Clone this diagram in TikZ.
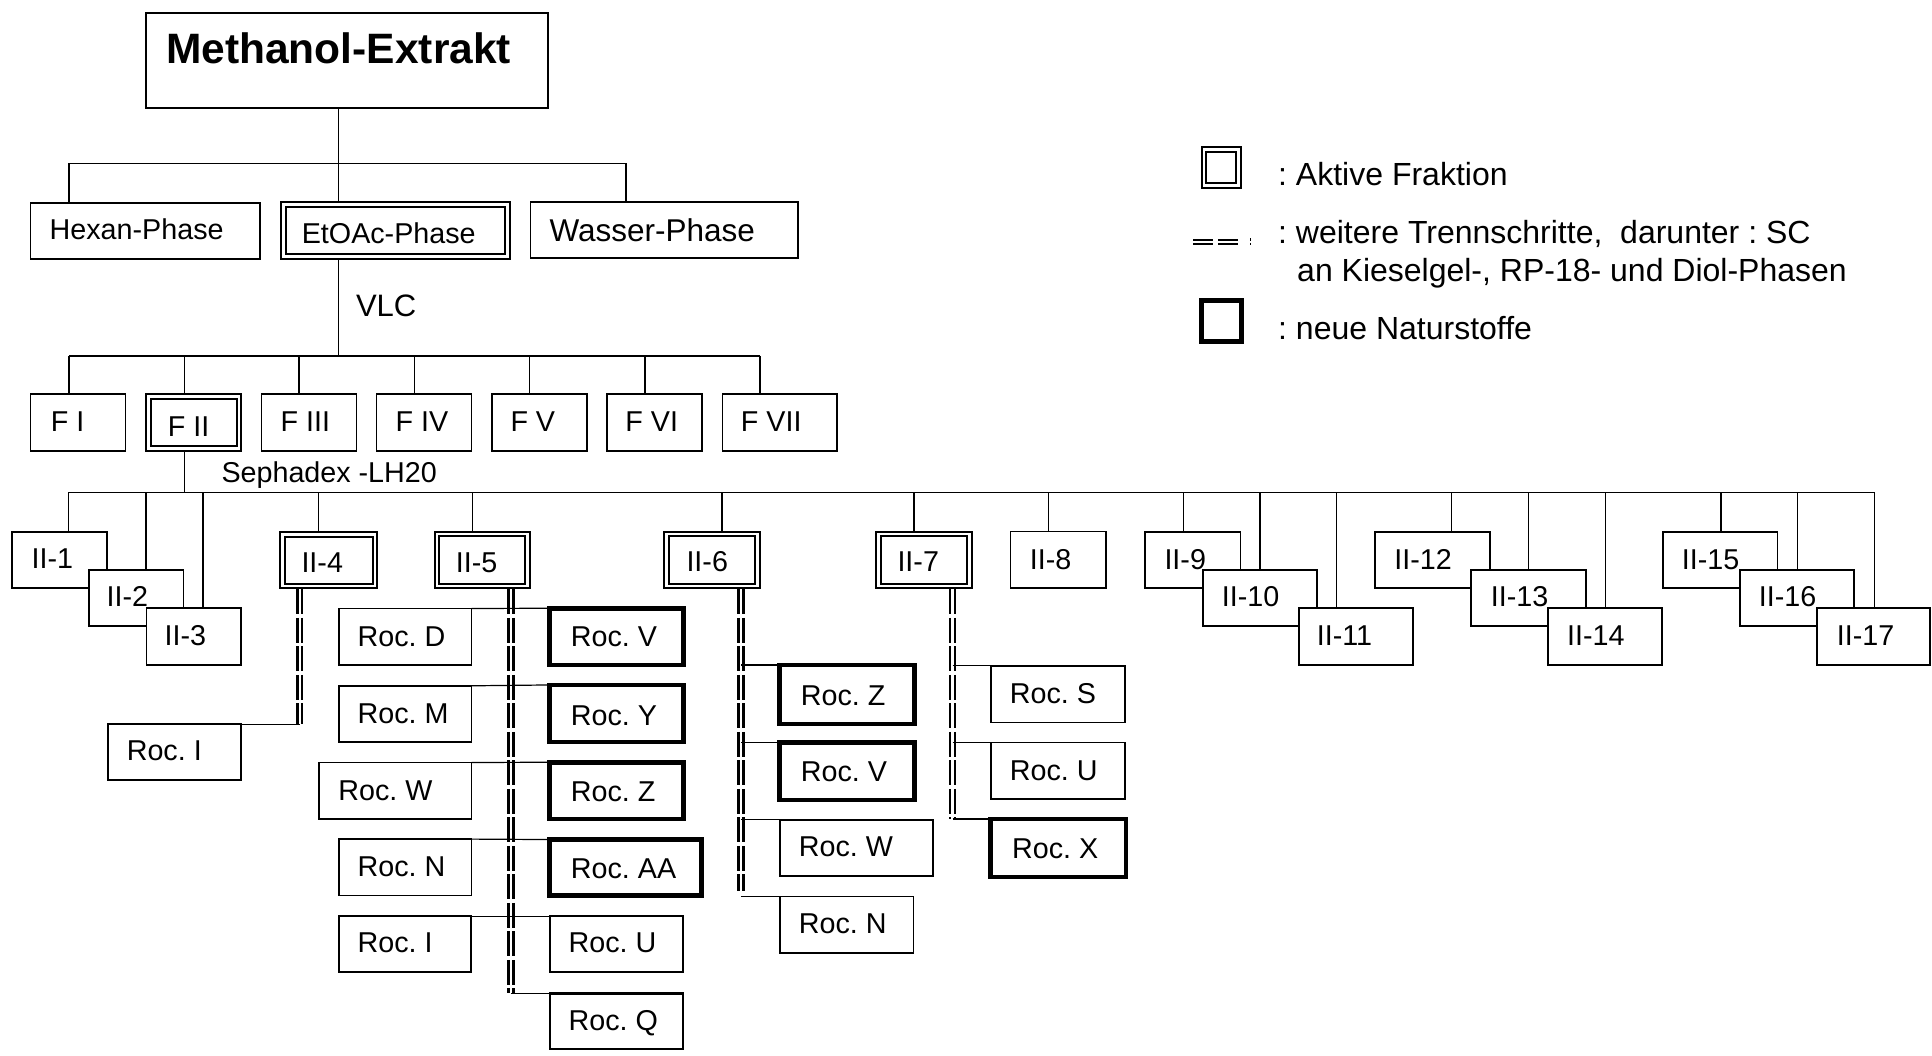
\documentclass[tikz,border=0pt]{standalone}
\usepackage{fontspec}
\setmainfont{Liberation Sans}
\newcommand\mkbox[7]{%
  \pgfmathsetmacro\bxw{#6-#4-2*#2}\pgfmathsetmacro\bxh{#7-#5-2*#2}%
  \pgfmathsetmacro\bxx{(#4+#6)/2}\pgfmathsetmacro\bxy{(#5+#7)/2}%
  \node[#1, minimum width=\bxw pt, minimum height=\bxh pt] (#3) at (\bxx,\bxy) {};}
\newcommand\mklbl[5][]{\node[txt,#1,anchor=base west] (#2) at ({#3-2},#4) {#5};}
\newcommand\dbline[2]{%
  \draw[dbl] ([xshift=-2.4pt]#1) -- ([xshift=-2.4pt]#2);
  \draw[dbl] ([xshift=2.4pt]#1) -- ([xshift=2.4pt]#2);}
\tikzset{
  bx/.style={draw, fill=white, inner sep=0pt, outer sep=0pt, line width=1.6pt},
  medbx/.style={bx, line width=2.2pt},
  thickbx/.style={bx, line width=4.5pt},
  activebx/.style={bx, line width=2pt, double=white, double distance=2.6pt, outer sep=3.3pt},
  conn/.style={line width=1.5pt},
  rconn/.style={line width=1.2pt},
  dbl/.style={line width=2.7pt, dash pattern=on 25pt off 3.5pt},
  txt/.style={inner sep=0pt, font=\fontsize{28.7}{34}\selectfont\frenchspacing},
  big/.style={font=\fontsize{42.5}{48}\selectfont\bfseries},
  leg/.style={font=\fontsize{32}{38}\selectfont\frenchspacing},
}
\begin{document}
\begin{tikzpicture}[x=1pt,y=-1pt]
\fill[white] (0,0) rectangle (1932,1056);
\useasboundingbox (0,0) rectangle (1932,1056);

% ---------- top level
\mkbox{bx, line width=2pt}{1}{M}{145.3}{12.3}{549.1}{108.7}
\mkbox{bx}{0.8}{Hex}{29.8}{202}{260.8}{260}
\mkbox{activebx}{3.3}{Et}{280.3}{201}{510.7}{260}
\mkbox{bx}{0.8}{Wa}{529.6}{201}{798.5}{259}

% ---------- F row
\mkbox{bx}{0.8}{F1}{29.8}{393}{126.3}{452}
\mkbox{activebx}{3.3}{F2}{145.3}{393}{242.3}{452}
\mkbox{bx}{0.8}{F3}{260.8}{393}{357.2}{452}
\mkbox{bx}{0.8}{F4}{375.7}{393}{472.2}{452}
\mkbox{bx}{0.8}{F5}{491.1}{393}{587.6}{452}
\mkbox{bx}{0.8}{F6}{606.1}{393}{702.6}{452}
\mkbox{bx}{0.8}{F7}{721.5}{393}{837.5}{452}

% ---------- II row
\mkbox{bx}{0.8}{II1}{11.2}{531}{107.6}{588.7}
\mkbox{bx}{0.8}{II2}{87.9}{569}{184.4}{626.7}
\mkbox{bx}{0.8}{II3}{145.5}{607.3}{242}{665.7}
\mkbox{activebx}{3.3}{II4}{279}{531}{378.3}{589.3}
\mkbox{activebx}{3.3}{II5}{433.5}{530.7}{530.8}{589.3}
\mkbox{activebx}{3.3}{II6}{663.3}{530.7}{761}{589.3}
\mkbox{activebx}{3.3}{II7}{875}{530.7}{972.7}{589.3}
\mkbox{bx}{0.8}{II8}{1009.7}{530.7}{1106.7}{588.7}
\mkbox{bx}{0.8}{II9}{1144}{531}{1241.1}{588.7}
\mkbox{bx}{0.8}{II10}{1201.9}{569}{1317.5}{626.7}
\mkbox{bx}{0.8}{II11}{1297.9}{607.3}{1413.6}{665.7}
\mkbox{bx}{0.8}{II12}{1374.3}{531}{1490.5}{588.7}
\mkbox{bx}{0.8}{II13}{1470.4}{569}{1586.6}{626.7}
\mkbox{bx}{0.8}{II14}{1547.3}{607.3}{1663}{665.7}
\mkbox{bx}{0.8}{II15}{1662.4}{531}{1778.1}{588.7}
\mkbox{bx}{0.8}{II16}{1739.4}{569}{1855}{626.7}
\mkbox{bx}{0.8}{II17}{1816.3}{607.3}{1930.5}{665.7}

% ---------- Roc boxes
\mkbox{bx}{0.8}{RI1}{107.1}{723.3}{242}{781}
\mkbox{bx}{0.8}{RD}{337.9}{607.7}{472.3}{665.7}
\mkbox{thickbx}{2.25}{RV}{547.3}{606}{685.7}{667.3}
\mkbox{bx}{0.8}{RM}{338}{685}{472.3}{742.7}
\mkbox{thickbx}{2.25}{RY}{547.3}{682.7}{685.7}{744.3}
\mkbox{bx}{0.8}{RW}{318.3}{761.7}{472.3}{819.7}
\mkbox{thickbx}{2.25}{RZ}{547.3}{760}{685.7}{821}
\mkbox{bx}{0.8}{RN}{338}{838.3}{472.3}{896.3}
\mkbox{thickbx}{2.25}{RAA}{547.3}{837.3}{703.5}{897.7}
\mkbox{medbx}{1.1}{RI2}{338}{915}{472.3}{973.3}
\mkbox{medbx}{1.1}{RU}{548.6}{915}{683.9}{973}
\mkbox{medbx}{1.1}{RQ}{548.6}{992.3}{683.9}{1050}
\mkbox{thickbx}{2.25}{Z6}{777.3}{662.7}{916.7}{726}
\mkbox{thickbx}{2.25}{V6}{777.3}{740}{916.7}{802.3}
\mkbox{bx}{0.8}{W6}{779}{819}{933.7}{877}
\mkbox{bx}{0.8}{N6}{779}{895.7}{914.3}{953.7}
\mkbox{bx}{0.8}{S7}{990.3}{665}{1126}{723.3}
\mkbox{bx}{0.8}{U7}{990.3}{741.7}{1126}{800}
\mkbox{thickbx}{2.25}{X7}{988.3}{816.7}{1128}{879.3}

% ---------- legend icons
\mkbox{activebx}{3.3}{LA}{1200.7}{146}{1242}{189}
\mkbox{thickbx, line width=5pt}{2.5}{LN}{1199.3}{297.7}{1244}{344.3}
\coordinate (LDa) at (1193,242);
\coordinate (LDb) at (1240,242);
\coordinate (LDc) at (1250.7,242);
\draw[line width=2pt, dash pattern=on 20pt off 5pt] ([yshift=2.3pt]LDa) -- ([yshift=2.3pt]LDb);
\draw[line width=2pt, dash pattern=on 20pt off 5pt] ([yshift=-2.3pt]LDa) -- ([yshift=-2.3pt]LDb);
\draw[line width=1pt] ([yshift=3.5pt]LDc) -- ([yshift=1pt]LDc);
\draw[line width=1pt] ([yshift=-1pt]LDc) -- ([yshift=-3.5pt]LDc);

% ---------- tree connectors: top
\coordinate (mj) at (338.3,163.3);
\coordinate (hj) at (68.8,163.3);
\coordinate (wj) at (626.1,163.3);
\draw[conn] (M.south -| mj) -- (mj);
\draw[conn] (hj) -- (wj);
\draw[conn] (hj) -- (hj |- Hex.north);
\draw[conn] (mj) -- (mj |- Et.north);
\draw[conn] (wj) -- (wj |- Wa.north);

% VLC
\coordinate (vj) at (338.3,356);
\draw[conn] (Et.south -| vj) -- (vj);
\coordinate (f1j) at (68.8,356);
\coordinate (f2j) at (184.3,356);
\coordinate (f3j) at (299.2,356);
\coordinate (f4j) at (414.7,356);
\coordinate (f5j) at (529.6,356);
\coordinate (f6j) at (645.1,356);
\coordinate (f7j) at (760,356);
\draw[conn] (f1j) -- (f7j);
\foreach \i in {1,...,7} {\draw[conn] (f\i j) -- (f\i j |- F\i.north);}

% Sephadex
\coordinate (sj) at (184.3,492.7);
\draw[conn] (F2.south -| sj) -- (sj);
\foreach \i/\x in {1/68.3,2/146,3/203,4/318.7,5/472.3,6/722,7/914,8/1048.7,9/1183.3,10/1260.2,11/1336.6,12/1451.3,13/1528.7,14/1605.7,15/1720.8,16/1797.7,17/1874.7} {
  \coordinate (b\i) at (\x,492.7);
  \draw[conn] (b\i) -- (b\i |- II\i.north);
}
\draw[conn] (b1) -- (b17);

% ---------- double (further separation) lines
\coordinate (x4) at (299.7,0);
\coordinate (x5) at (511,0);
\coordinate (x6) at (741,0);
\coordinate (x7) at (952.5,0);

\coordinate (d4t) at (II4.south -| x4);
\coordinate (d4b) at (RI1.north -| x4);
\dbline{d4t}{d4b}
\draw[rconn] (d4b) -- (RI1.north east);

\coordinate (d5t) at (II5.south -| x5);
\coordinate (d5b) at (RQ.north -| x5);
\dbline{d5t}{d5b}
\draw[rconn] (RD.north east) -- (RV.north west);
\draw[rconn] (RM.north east) -- (RY.north west);
\draw[rconn] (RW.north east) -- (RZ.north west);
\draw[rconn] (RN.north east) -- (RAA.north west);
\draw[rconn] (RI2.north east) -- (RU.north west);
\draw[rconn] (d5b) -- (RQ.north west);

\coordinate (d6t) at (II6.south -| x6);
\coordinate (d6b) at (741,891);
\dbline{d6t}{d6b}
\draw[rconn] (Z6.north west -| x6) -- (Z6.north west);
\draw[rconn] (V6.north west -| x6) -- (V6.north west);
\draw[rconn] (W6.north west -| x6) -- (W6.north west);
\draw[rconn] (N6.north west -| x6) -- (N6.north west);

\coordinate (d7t) at (II7.south -| x7);
\coordinate (d7b) at (X7.north -| x7);
\dbline{d7t}{d7b}
\draw[rconn] (S7.north west -| x7) -- (S7.north west);
\draw[rconn] (U7.north west -| x7) -- (U7.north west);
\draw[rconn] (d7b) -- (X7.north west);

% ---------- texts
\mklbl[big]{tM}{168}{63.3}{Methanol-Extrakt}
\mklbl{tHex}{51.5}{240}{Hexan-Phase}
\mklbl{tEt}{303.6}{243.3}{EtOAc-Phase}
\mklbl[font=\fontsize{31.5}{36}\selectfont]{tWa}{551.3}{241.7}{Wasser-Phase}
\mklbl[font=\fontsize{31}{36}\selectfont]{tVLC}{357.8}{316.7}{VLC}
\mklbl{tF1}{52.6}{431.7}{F I}
\mklbl{tF2}{169.7}{436.7}{F II}
\mklbl{tF3}{282.4}{431.7}{F III}
\mklbl{tF4}{397.4}{431.7}{F IV}
\mklbl{tF5}{512.3}{431.7}{F V}
\mklbl{tF6}{627.2}{431.7}{F VI}
\mklbl{tF7}{742.7}{431.7}{F VII}
\mklbl{tSep}{223.3}{482.3}{Sephadex -LH20}
\mklbl{tII1}{33.5}{568.3}{II-1}
\mklbl{tII2}{108.5}{606.7}{II-2}
\mklbl{tII3}{166.5}{645}{II-3}
\mklbl{tII4}{303.3}{572}{II-4}
\mklbl{tII5}{457.6}{572}{II-5}
\mklbl{tII6}{688.3}{571.7}{II-6}
\mklbl{tII7}{899.3}{571.7}{II-7}
\mklbl{tII8}{1031.7}{569}{II-8}
\mklbl{tII9}{1166.3}{569}{II-9}
\mklbl{tII10}{1223.6}{606.7}{II-10}
\mklbl{tII11}{1318.6}{645.7}{II-11}
\mklbl{tII12}{1396.1}{569}{II-12}
\mklbl{tII13}{1492.6}{606.7}{II-13}
\mklbl{tII14}{1569}{645.7}{II-14}
\mklbl{tII15}{1683.7}{569}{II-15}
\mklbl{tII16}{1760.6}{606.7}{II-16}
\mklbl{tII17}{1838.6}{645.7}{II-17}
\mklbl{tRI1}{128.6}{760}{Roc. I}
\mklbl{tRD}{359.4}{646}{Roc. D}
\mklbl{tRV}{572.7}{646.7}{Roc. V}
\mklbl{tRM}{359.4}{723.3}{Roc. M}
\mklbl{tRY}{572.7}{725}{Roc. Y}
\mklbl{tRW}{340.2}{800}{Roc. W}
\mklbl{tRZ}{572.7}{801.7}{Roc. Z}
\mklbl{tRN}{359.4}{876.7}{Roc. N}
\mklbl{tRAA}{572.7}{878.3}{Roc. AA}
\mklbl{tRI2}{359.4}{952.7}{Roc. I}
\mklbl{tRU}{570.5}{952.7}{Roc. U}
\mklbl{tRQ}{570.5}{1030}{Roc. Q}
\mklbl{tZ6}{802.7}{705}{Roc. Z}
\mklbl{tV6}{802.7}{781.7}{Roc. V}
\mklbl{tW6}{800.7}{856.7}{Roc. W}
\mklbl{tN6}{800.7}{933.3}{Roc. N}
\mklbl{tS7}{1011.7}{703.3}{Roc. S}
\mklbl{tU7}{1011.7}{780}{Roc. U}
\mklbl{tX7}{1014}{858.3}{Roc. X}

% legend texts
\mklbl[leg]{la}{1280}{186}{: Aktive Fraktion}
\mklbl[leg]{lb}{1280}{244}{: weitere Trennschritte,\ \ darunter : SC}
\mklbl[leg]{lc}{1299}{281.5}{an Kieselgel-, RP-18- und Diol-Phasen}
\mklbl[leg]{ld}{1280}{339.5}{: neue Naturstoffe}
\end{tikzpicture}
\end{document}
